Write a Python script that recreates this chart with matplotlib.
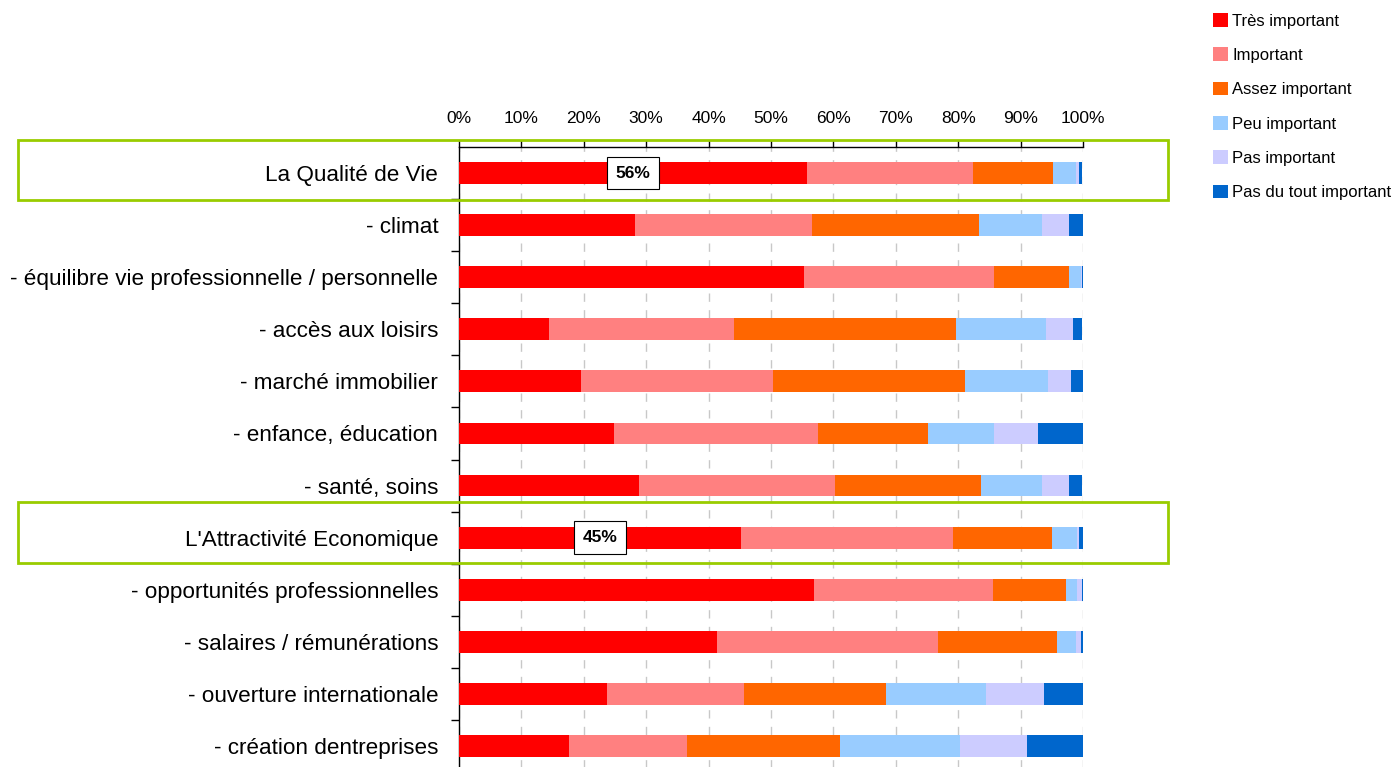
import numpy as np
import matplotlib.pyplot as plt
from matplotlib.patches import Rectangle
from matplotlib.ticker import PercentFormatter, MultipleLocator

categories = [
    "La Qualité de Vie",
    "- climat",
    "- équilibre vie professionnelle / personnelle",
    "- accès aux loisirs",
    "- marché immobilier",
    "- enfance, éducation",
    "- santé, soins",
    "L'Attractivité Economique",
    "- opportunités professionnelles",
    "- salaires / rémunérations",
    "- ouverture internationale",
    "- création dentreprises",
]

tres_important = [55.7, 28.2, 55.3, 14.5, 19.6, 24.8, 28.9, 45.2, 56.9, 41.3, 23.7, 17.7]
important = [26.6, 28.4, 30.5, 29.6, 30.8, 32.8, 31.3, 34.0, 28.6, 35.4, 21.9, 18.8]
assez_important = [12.9, 26.8, 11.9, 35.6, 30.7, 17.5, 23.4, 15.9, 11.7, 19.1, 22.9, 24.5]
peu_important = [3.7, 10.0, 2.0, 14.3, 13.3, 10.7, 9.8, 3.9, 1.8, 3.1, 15.9, 19.3]
pas_important = [0.4, 4.3, 0.1, 4.4, 3.7, 7.0, 4.3, 0.4, 0.8, 0.8, 9.3, 10.8]
pas_du_tout = [0.6, 2.4, 0.2, 1.5, 1.9, 7.3, 2.2, 0.6, 0.3, 0.3, 6.4, 8.9]

series = [tres_important, important, assez_important, peu_important, pas_important, pas_du_tout]
names = ["Très important", "Important", "Assez important", "Peu important",
         "Pas important", "Pas du tout important"]
colors = ["#ff0000", "#ff8080", "#ff6600", "#99ccff", "#ccccff", "#0066cc"]

# headline rows get a boxed value label
highlight = {0: "56%", 7: "45%"}

plt.rcParams['font.family'] = ["Liberation Sans", "DejaVu Sans"]

W, H = 1395, 767
fig = plt.figure(figsize=(W / 100, H / 100), dpi=100)
ax = fig.add_axes([459 / W, 1 - 772 / H, (1083 - 459) / W, (772 - 147) / H])

y = np.arange(len(categories))
left = np.zeros(len(categories))
for vals, name, c in zip(series, names, colors):
    v = np.array(vals)
    ax.barh(y, v, left=left, height=0.42, color=c, label=name, zorder=3)
    left += v

for i, txt in highlight.items():
    ax.text(tres_important[i] / 2, y[i], txt, ha="center", va="center",
            fontsize=12.5, fontweight="bold", zorder=5,
            bbox=dict(boxstyle="square,pad=0.5", fc="white", ec="black", lw=0.8))

ax.set_xlim(0, 100)
ax.set_ylim(len(categories) - 0.5, -0.5)
ax.xaxis.set_major_locator(MultipleLocator(10))
ax.xaxis.set_major_formatter(PercentFormatter(decimals=0))
ax.xaxis.tick_top()
ax.tick_params(axis="x", length=5, width=1, labelsize=12.5, pad=10)

ax.set_yticks(y)
ax.set_yticklabels(categories, fontsize=16.2)
ax.tick_params(axis="y", length=0, pad=15)
ax.set_yticks(np.arange(len(categories) - 1) + 0.5, minor=True)
ax.tick_params(axis="y", which="minor", length=6, width=1, color="black")

ax.grid(axis="x", color="#c8c8c8", linestyle=(0, (6, 6)), linewidth=1, zorder=0)
for s in ["right", "bottom"]:
    ax.spines[s].set_visible(False)
ax.spines["top"].set_linewidth(1)
ax.spines["left"].set_linewidth(1)

# green frames around the headline rows
for top, bot in [(140, 200), (502, 563)]:
    fig.patches.append(Rectangle((18 / W, 1 - bot / H), (1168 - 18) / W, (bot - top) / H,
                                 transform=fig.transFigure, fill=False,
                                 ec="#99cc00", lw=2, zorder=10))

leg = fig.legend(loc="upper left", bbox_to_anchor=(1198 / W, 1 + 2 / H), frameon=False,
                 handlelength=0.9, handleheight=0.9, handletextpad=0.25,
                 labelspacing=1.12, prop={"size": 12})

fig.savefig("out.png", dpi=100)
